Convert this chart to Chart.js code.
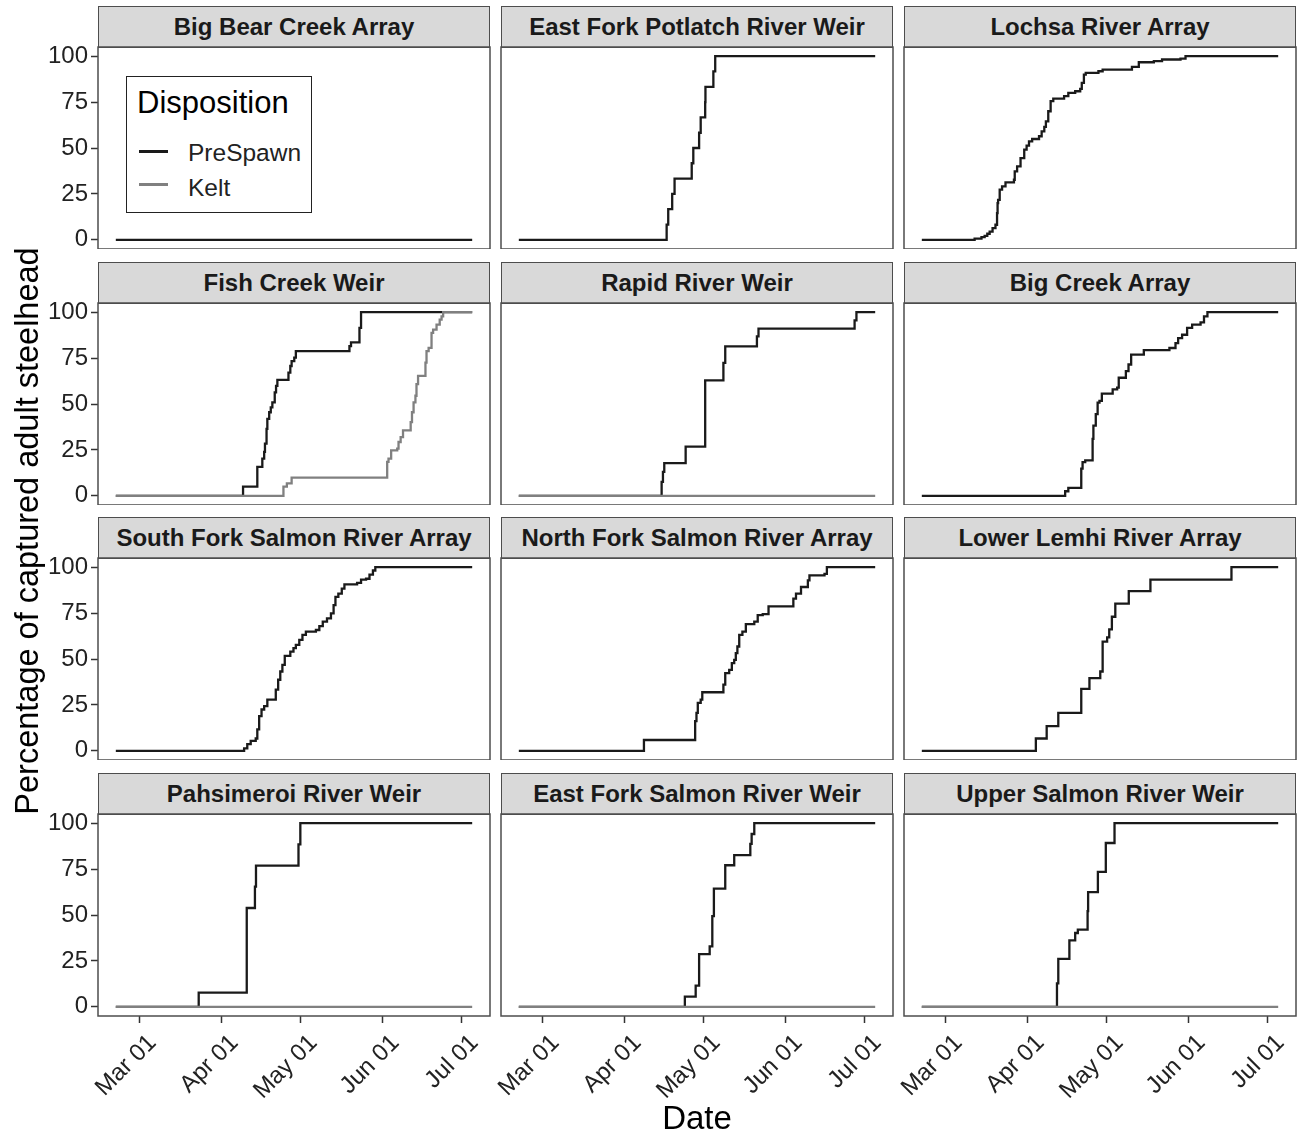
<!DOCTYPE html>
<html>
<head>
<meta charset="utf-8">
<title>Cumulative detections of adult steelhead</title>
<script src="https://cdn.jsdelivr.net/npm/chart.js@4.4.1/dist/chart.umd.min.js"></script>
<style>
  body { margin: 0; background: #fff; font-family: "Liberation Sans", Arial, sans-serif; }
  #wrap { position: relative; width: 1302px; height: 1137px; overflow: hidden; }
  #wrap canvas { position: absolute; }
  .strip {
    position: absolute; box-sizing: border-box; background: #d9d9d9;
    border: 1.5px solid #4d4d4d; color: #1a1a1a; font-weight: bold; font-size: 24px;
    text-align: center; line-height: 40px; white-space: nowrap;
  }
  .ytitle {
    position: absolute; width: 1000px; text-align: center; font-size: 32.5px; line-height: 36px;
    color: #000; transform: rotate(-90deg); transform-origin: 50% 50%;
  }
  .xtitle { position: absolute; width: 200px; text-align: center; font-size: 33px; line-height: 36px; color: #000; }
  .legend {
    position: absolute; box-sizing: border-box; background: #fff; border: 1.2px solid #222;
  }
  .legend .title { position: absolute; left: 10px; top: 9px; font-size: 31px; line-height: 34px; color: #000; }
  .legend .key { position: absolute; left: 12px; width: 29px; height: 2.5px; }
  .legend .lab { position: absolute; left: 61px; font-size: 24.5px; line-height: 28px; color: #222; }
</style>
</head>
<body>
<div id="wrap"></div>
<script>
// x values are days counted from Mar 01
const xTickDays = [0, 31, 61, 92, 122];
const xTickLabels = ["Mar 01", "Apr 01", "May 01", "Jun 01", "Jul 01"];
const yTickValues = [0, 25, 50, 75, 100];

const sites = [
  "Big Bear Creek Array", "East Fork Potlatch River Weir", "Lochsa River Array",
  "Fish Creek Weir", "Rapid River Weir", "Big Creek Array",
  "South Fork Salmon River Array", "North Fork Salmon River Array", "Lower Lemhi River Array",
  "Pahsimeroi River Weir", "East Fork Salmon River Weir", "Upper Salmon River Weir"
];

// PreSpawn cumulative percentages
const bigBearDays = [-9, 126];
const bigBearPct  = [0, 0];

const potlatchDays = [-9, 47.0, 47.6, 49.1, 50.0, 56.5, 57.1, 59.3, 59.9, 61.6, 61.7, 64.7, 65.4, 126];
const potlatchPct  = [0, 8.3, 16.7, 25, 33.3, 41.7, 50, 58.3, 66.7, 75, 83.3, 91.7, 100, 100];

const lochsaDays = [-9, 11.0, 13.6, 14.8, 15.8, 16.7, 17.8, 18.9, 19.5, 19.7, 19.9, 20.5, 21.4, 22.7, 25.9,
  26.2, 27.1, 28.4, 29.8, 30.7, 31.6, 32.8, 35.4, 36.4, 37.4, 38.0, 38.9, 39.8, 40.8, 44.9, 46.5, 49.1,
  51.0, 51.6, 52.4, 53.1, 57.9, 59.5, 70.6, 73.2, 78.9, 82.0, 89.0, 90.9, 126];
const lochsaPct  = [0, 0.7, 1.5, 2.2, 3.3, 4.5, 6.4, 8.2, 14.5, 20, 21.8, 27.3, 29.1, 31.3, 32.7,
  37.3, 40, 44.5, 49.1, 51.3, 53.6, 54.9, 56.4, 59.1, 61.5, 64.5, 70, 75.5, 76.9, 78.2, 80, 80.9,
  82.2, 85.5, 90, 90.9, 91.8, 92.7, 94.2, 96.7, 97.3, 98.2, 98.7, 100, 100];

const fishCreekDays = [-9, 39.2, 44.6, 46.5, 47.2, 47.5, 48.1, 48.4, 49.1, 49.7, 50.3, 51.2, 51.7, 52.2,
  56.4, 57.1, 57.6, 58.6, 59.2, 79.5, 80.1, 83.3, 83.9, 126];
const fishCreekPct  = [0, 5.0, 15.8, 20.3, 23.9, 28.4, 36.5, 41.9, 45.5, 48.2, 50.9, 56.3, 59.9, 63.1,
  67.1, 70.7, 73.4, 75.2, 78.8, 81.5, 83.6, 91.4, 100, 100];

const rapidDays = [-9, 45.1, 45.6, 46.1, 54.2, 61.6, 68.5, 69.2, 81.2, 81.8, 118.2, 118.9, 126];
const rapidPct  = [0, 7.6, 13, 17.8, 26.8, 62.9, 72.4, 81.4, 86.8, 91, 95.5, 100, 100];

const bigCreekDays = [-9, 45.3, 46.5, 51.4, 51.9, 52.9, 55.7, 56.0, 56.9, 57.6, 58.3, 59.2, 63.3, 65.0,
  65.6, 68.3, 69.3, 70.3, 75.1, 84.8, 87.1, 88.1, 89.6, 91.5, 93.4, 96.6, 97.9, 99.2, 126];
const bigCreekPct  = [0, 2.5, 4.3, 14.8, 18.4, 19.3, 31.0, 38.2, 44.5, 50.8, 51.7, 55.7, 58.0, 58.9,
  64.3, 67.9, 71.5, 76.9, 79.3, 80.5, 83.2, 85.9, 87.7, 91.4, 93.2, 94.4, 97.7, 100, 100];

const southForkDays = [-9, 39.6, 40.8, 42.1, 44.0, 44.6, 45.3, 46.2, 47.2, 48.4, 51.6, 52.5, 53.3, 54.1,
  55.0, 57.1, 58.3, 59.2, 60.5, 61.7, 63.0, 66.8, 68.1, 69.4, 71.0, 72.5, 73.5, 74.2, 75.3, 76.6, 77.6,
  82.4, 83.9, 85.8, 87.1, 88.4, 89.3, 126];
const southForkPct  = [0, 1.3, 3.6, 5.4, 6.7, 11.7, 18.9, 22.5, 24.3, 27.9, 33.3, 38.7, 43.2, 46.8,
  51.7, 54.0, 55.9, 57.7, 60.4, 63.1, 64.9, 65.8, 67.9, 70.3, 72.1, 74.8, 79.3, 83.8, 85.6, 88.3, 90.6,
  91.5, 93.2, 93.7, 96.0, 98.2, 100, 100];

const northForkDays = [-9, 38.4, 57.8, 58.3, 58.8, 59.9, 60.5, 68.5, 69.2, 70.7, 71.7, 72.6, 73.2, 73.8,
  74.5, 75.7, 77.0, 80.2, 81.5, 83.4, 85.6, 95.0, 96.0, 97.9, 100.5, 101.1, 106.8, 107.7, 126];
const northForkPct  = [0, 5.9, 16.2, 20.7, 26.1, 27.9, 31.9, 36.0, 42.3, 44.1, 47.7, 49.5, 53.2, 56.8,
  63.1, 64.9, 69.0, 70.3, 73.9, 74.4, 78.7, 82.9, 85.6, 89.2, 92.8, 95.5, 96.4, 100, 100];

const lemhiDays = [-9, 34.2, 38.3, 42.7, 51.4, 54.5, 58.6, 59.5, 61.2, 62.0, 63.0, 64.3, 69.4, 77.6, 108.3, 126];
const lemhiPct  = [0, 6.7, 13.5, 20.7, 33.7, 39.6, 43.2, 59.5, 61.8, 66.1, 73.0, 80.2, 87.0, 93.2, 100, 100];

const pahsimeroiDays = [-9, 22.4, 40.6, 43.7, 44.1, 60.2, 60.9, 126];
const pahsimeroiPct  = [0, 7.7, 53.8, 65.4, 76.9, 88.5, 100, 100];

const eastForkSalmonDays = [-9, 53.9, 58.0, 59.3, 63.3, 64.3, 64.9, 69.2, 72.6, 78.7, 79.2, 80.2, 126];
const eastForkSalmonPct  = [0, 5.5, 11.5, 28.7, 32.9, 49.4, 64.4, 77.1, 82.6, 88.7, 94.1, 100, 100];

const upperSalmonDays = [-9, 42.2, 42.7, 46.9, 49.1, 50.1, 53.8, 54.0, 57.7, 60.7, 64.0, 126];
const upperSalmonPct  = [0, 12.8, 26.1, 36.2, 40.2, 42.0, 52.1, 62.5, 73.5, 89.2, 100, 100];

// Kelt cumulative percentages (only sites where kelts were tracked)
const keltNoneDays = [-9, 126];
const keltNonePct  = [0, 0];
const fishCreekKeltDays = [-9, 54.5, 55.8, 57.6, 93.8, 94.3, 95.3, 97.6, 98.1, 98.9, 99.8, 102.7, 103.2,
  103.8, 104.5, 104.9, 105.5, 108.3, 108.7, 109.5, 110.6, 111.2, 112.5, 113.7, 114.4, 115.0, 126];
const fishCreekKeltPct  = [0, 5.0, 6.8, 9.9, 18.5, 20.3, 24.8, 25.7, 29.3, 32.0, 35.6, 40.1, 45.5,
  50.9, 54.5, 60.8, 65.3, 72.5, 78.8, 80.6, 88.7, 90.5, 93.2, 95.9, 97.7, 100, 100];

const panels = [
  { pre: [bigBearDays, bigBearPct], kelt: null },
  { pre: [potlatchDays, potlatchPct], kelt: null },
  { pre: [lochsaDays, lochsaPct], kelt: null },
  { pre: [fishCreekDays, fishCreekPct], kelt: [fishCreekKeltDays, fishCreekKeltPct] },
  { pre: [rapidDays, rapidPct], kelt: [keltNoneDays, keltNonePct] },
  { pre: [bigCreekDays, bigCreekPct], kelt: null },
  { pre: [southForkDays, southForkPct], kelt: null },
  { pre: [northForkDays, northForkPct], kelt: null },
  { pre: [lemhiDays, lemhiPct], kelt: null },
  { pre: [pahsimeroiDays, pahsimeroiPct], kelt: [keltNoneDays, keltNonePct] },
  { pre: [eastForkSalmonDays, eastForkSalmonPct], kelt: [keltNoneDays, keltNonePct] },
  { pre: [upperSalmonDays, upperSalmonPct], kelt: [keltNoneDays, keltNonePct] }
];

const FONT = '"Liberation Sans", Arial, sans-serif';
const preColor = '#1a1a1a';
const keltColor = '#808080';

// facet grid geometry
const colLeft = [98, 501, 904];
const rowTop = [47, 303, 558, 814];
const plotW = 392, plotH = 202, stripH = 41;
const axisW = 58, axisH = 100, pad = 2;

const wrap = document.getElementById('wrap');

const panelBorder = {
  id: 'panelBorder',
  afterDatasetsDraw(chart) {
    const a = chart.chartArea, ctx = chart.ctx;
    ctx.save();
    ctx.strokeStyle = '#4d4d4d';
    ctx.lineWidth = 1.5;
    ctx.strokeRect(a.left, a.top, a.right - a.left, a.bottom - a.top);
    ctx.restore();
  }
};

function toPoints(pair) {
  return pair[0].map((d, i) => ({ x: d, y: pair[1][i] }));
}

panels.forEach((p, i) => {
  const c = i % 3, r = Math.floor(i / 3);
  const showX = r === 3, showY = c === 0;
  const left = colLeft[c] - axisW, top = rowTop[r] - pad;
  const w = plotW + axisW + pad, h = plotH + pad + (showX ? axisH : 0);

  const strip = document.createElement('div');
  strip.className = 'strip';
  strip.style.left = colLeft[c] + 'px';
  strip.style.top = (rowTop[r] - stripH) + 'px';
  strip.style.width = plotW + 'px';
  strip.style.height = (stripH + 1) + 'px';
  strip.textContent = sites[i];
  wrap.appendChild(strip);

  const cv = document.createElement('canvas');
  cv.width = w; cv.height = h;
  cv.style.left = left + 'px'; cv.style.top = top + 'px';
  cv.style.width = w + 'px'; cv.style.height = h + 'px';
  wrap.appendChild(cv);

  const datasets = [{
    label: 'PreSpawn', data: toPoints(p.pre), borderColor: preColor,
    borderWidth: 2.3, stepped: true, pointRadius: 0, order: 1
  }];
  if (p.kelt) {
    datasets.push({
      label: 'Kelt', data: toPoints(p.kelt), borderColor: keltColor,
      borderWidth: 2.3, stepped: true, pointRadius: 0, order: 0
    });
  }

  new Chart(cv, {
    type: 'line',
    data: { datasets },
    plugins: [panelBorder],
    options: {
      responsive: false,
      animation: false,
      events: [],
      layout: { padding: { left: showY ? 0 : axisW, top: pad, right: pad, bottom: 0 } },
      plugins: { legend: { display: false }, tooltip: { enabled: false } },
      scales: {
        x: {
          type: 'linear', min: -15.75, max: 132.75, display: showX,
          afterBuildTicks: s => { s.ticks = xTickDays.map(v => ({ value: v })); },
          afterFit: s => {
            if (!showX) return;
            s.height = axisH; s.paddingLeft = 0; s.paddingRight = 0;
          },
          grid: { drawOnChartArea: false, tickLength: 7, tickColor: '#333', tickWidth: 1.5 },
          border: { display: false },
          ticks: {
            autoSkip: false, maxRotation: 45, minRotation: 45, padding: 6, labelOffset: 13,
            color: '#222', font: { size: 24, family: FONT },
            callback: (v, idx) => xTickLabels[idx]
          }
        },
        y: {
          type: 'linear', min: -5, max: 105, display: showY,
          afterBuildTicks: s => { s.ticks = yTickValues.map(v => ({ value: v })); },
          afterFit: s => {
            if (!showY) return;
            s.width = axisW; s.paddingTop = 0; s.paddingBottom = 0;
          },
          grid: { drawOnChartArea: false, tickLength: 7, tickColor: '#333', tickWidth: 1.5 },
          border: { display: false },
          ticks: { autoSkip: false, padding: 3, color: '#222', font: { size: 24, family: FONT } }
        }
      }
    }
  });
});

// legend drawn inside the first facet
const lg = document.createElement('div');
lg.className = 'legend';
lg.style.left = '126px'; lg.style.top = '76px';
lg.style.width = '186px'; lg.style.height = '137px';
lg.innerHTML =
  '<div class="title">Disposition</div>' +
  '<div class="key" style="top:73px;background:' + preColor + '"></div>' +
  '<div class="lab" style="top:62px">PreSpawn</div>' +
  '<div class="key" style="top:106px;background:' + keltColor + '"></div>' +
  '<div class="lab" style="top:97px">Kelt</div>';
wrap.appendChild(lg);

const yt = document.createElement('div');
yt.className = 'ytitle';
yt.textContent = 'Percentage of captured adult steelhead';
yt.style.left = (27 - 500) + 'px';
yt.style.top = (531 - 18) + 'px';
wrap.appendChild(yt);

const xt = document.createElement('div');
xt.className = 'xtitle';
xt.textContent = 'Date';
xt.style.left = (697 - 100) + 'px';
xt.style.top = (1118 - 18) + 'px';
wrap.appendChild(xt);
</script>
</body>
</html>
